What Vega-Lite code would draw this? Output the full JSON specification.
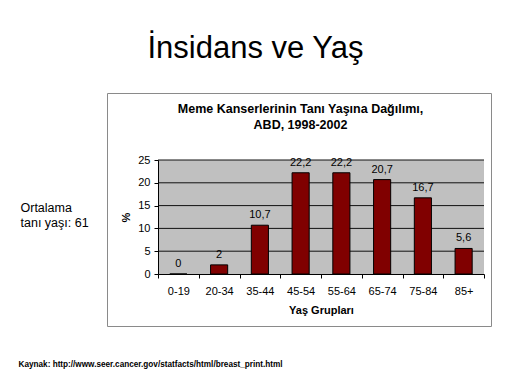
{
  "$schema": "https://vega.github.io/schema/vega-lite/v6.json",
  "width": 384,
  "height": 233,
  "autosize": "none",
  "padding": {"left": 107, "top": 93, "right": 21, "bottom": 58},
  "background": "white",
  "title": {
    "text": "İnsidans ve Yaş",
    "font": "Liberation Sans",
    "fontSize": 31,
    "fontWeight": "normal",
    "color": "#000000",
    "anchor": "middle",
    "frame": "group",
    "dx": -43.5,
    "offset": 28
  },
  "view": {"stroke": "#8a8a8a", "strokeWidth": 1, "fill": "white"},
  "data": {
    "values": [
      {"group": "0-19", "value": 0},
      {"group": "20-34", "value": 2},
      {"group": "35-44", "value": 10.7},
      {"group": "45-54", "value": 22.2},
      {"group": "55-64", "value": 22.2},
      {"group": "65-74", "value": 20.7},
      {"group": "75-84", "value": 16.7},
      {"group": "85+", "value": 5.6}
    ]
  },
  "resolve": {"axis": {"x": "independent", "y": "independent"}},
  "layer": [
    {
      "data": {"values": [{"area": "plot"}]},
      "mark": {"type": "rect", "fill": "#c0c0c0"},
      "encoding": {
        "x": {
          "datum": "0-19",
          "type": "nominal",
          "bandPosition": 0,
          "scale": {"domain": ["0-19", "20-34", "35-44", "45-54", "55-64", "65-74", "75-84", "85+"], "range": [51, 377], "paddingInner": 0, "paddingOuter": 0},
          "axis": {
            "orient": "top",
            "labels": false,
            "ticks": false,
            "domain": false,
            "grid": false,
            "title": ["Meme Kanserlerinin Tanı Yaşına Dağılımı,", "ABD, 1998-2002"],
            "titleX": 193,
            "titleY": 9,
            "titleAlign": "center",
            "titleBaseline": "top",
            "titleFontSize": 12.5,
            "titleFontWeight": "bold",
            "titleLineHeight": 16,
            "titleColor": "#000000"
          }
        },
        "x2": {"datum": "85+", "bandPosition": 1},
        "y": {
          "datum": 0,
          "type": "quantitative",
          "scale": {"domain": [0, 25], "range": [181, 67], "nice": false},
          "axis": {
            "orient": "left",
            "labels": false,
            "ticks": false,
            "domain": false,
            "grid": false,
            "title": ["Ortalama", "\u00a0tanı yaşı: 61"],
            "titleAngle": 0,
            "titleX": -87,
            "titleY": 108,
            "titleAlign": "left",
            "titleBaseline": "top",
            "titleFontSize": 12.5,
            "titleFontWeight": "normal",
            "titleLineHeight": 15,
            "titleColor": "#000000"
          }
        },
        "y2": {"datum": 25}
      }
    },
    {
      "data": {"values": [{"v": 5}, {"v": 10}, {"v": 15}, {"v": 20}, {"v": 25}]},
      "mark": {"type": "rule", "color": "#111111", "strokeWidth": 1},
      "encoding": {
        "x": {
          "datum": "0-19",
          "type": "nominal",
          "bandPosition": 0,
          "scale": {"domain": ["0-19", "20-34", "35-44", "45-54", "55-64", "65-74", "75-84", "85+"], "range": [51, 377], "paddingInner": 0, "paddingOuter": 0},
          "axis": {
            "orient": "bottom",
            "labels": false,
            "ticks": false,
            "domain": false,
            "grid": false,
            "title": "Kaynak: http://www.seer.cancer.gov/statfacts/html/breast_print.html",
            "titleX": -89,
            "titleY": 38,
            "titleAlign": "left",
            "titleBaseline": "middle",
            "titleFontSize": 8.2,
            "titleFontWeight": "bold",
            "titleColor": "#000000"
          }
        },
        "x2": {"datum": "85+", "bandPosition": 1},
        "y": {
          "field": "v",
          "type": "quantitative",
          "scale": {"domain": [0, 25], "range": [181, 67], "nice": false},
          "axis": null
        }
      }
    },
    {
      "mark": {"type": "bar", "width": {"band": 0.42}, "fill": "#800000", "stroke": "#000000", "strokeWidth": 1},
      "encoding": {
        "x": {
          "field": "group",
          "type": "nominal",
          "scale": {"domain": ["0-19", "20-34", "35-44", "45-54", "55-64", "65-74", "75-84", "85+"], "range": [51, 377], "paddingInner": 0, "paddingOuter": 0},
          "axis": {
            "orient": "bottom",
            "offset": -52,
            "title": "Yaş Grupları",
            "tickBand": "extent",
            "labelAngle": 0,
            "labelFontSize": 11,
            "labelColor": "#000000",
            "labelPadding": 7,
            "tickSize": 4,
            "tickColor": "#000000",
            "domainColor": "#000000",
            "grid": false,
            "titleFontSize": 11,
            "titleFontWeight": "bold",
            "titleColor": "#000000",
            "titlePadding": 8,
            "zindex": 1
          }
        },
        "y": {
          "field": "value",
          "type": "quantitative",
          "scale": {"domain": [0, 25], "range": [181, 67], "nice": false},
          "axis": {
            "orient": "left",
            "offset": -51,
            "title": "%",
            "values": [0, 5, 10, 15, 20, 25],
            "grid": false,
            "labelFontSize": 11,
            "labelColor": "#000000",
            "labelPadding": 4,
            "tickSize": 4,
            "tickColor": "#000000",
            "domainColor": "#000000",
            "titleFontSize": 11,
            "titleFontWeight": "bold",
            "titleColor": "#000000",
            "titlePadding": 6,
            "zindex": 1
          }
        }
      }
    },
    {
      "mark": {"type": "text", "baseline": "bottom", "dy": -5, "fontSize": 11, "color": "#000000"},
      "encoding": {
        "x": {
          "field": "group",
          "type": "nominal",
          "scale": {"domain": ["0-19", "20-34", "35-44", "45-54", "55-64", "65-74", "75-84", "85+"], "range": [51, 377], "paddingInner": 0, "paddingOuter": 0},
          "axis": null
        },
        "y": {
          "field": "value",
          "type": "quantitative",
          "scale": {"domain": [0, 25], "range": [181, 67], "nice": false},
          "axis": null
        },
        "text": {"field": "value", "type": "quantitative", "format": ".1~f"}
      }
    }
  ],
  "config": {
    "font": "Liberation Sans",
    "locale": {"number": {"decimal": ",", "thousands": ".", "grouping": [3], "currency": ["", " TL"]}}
  }
}
